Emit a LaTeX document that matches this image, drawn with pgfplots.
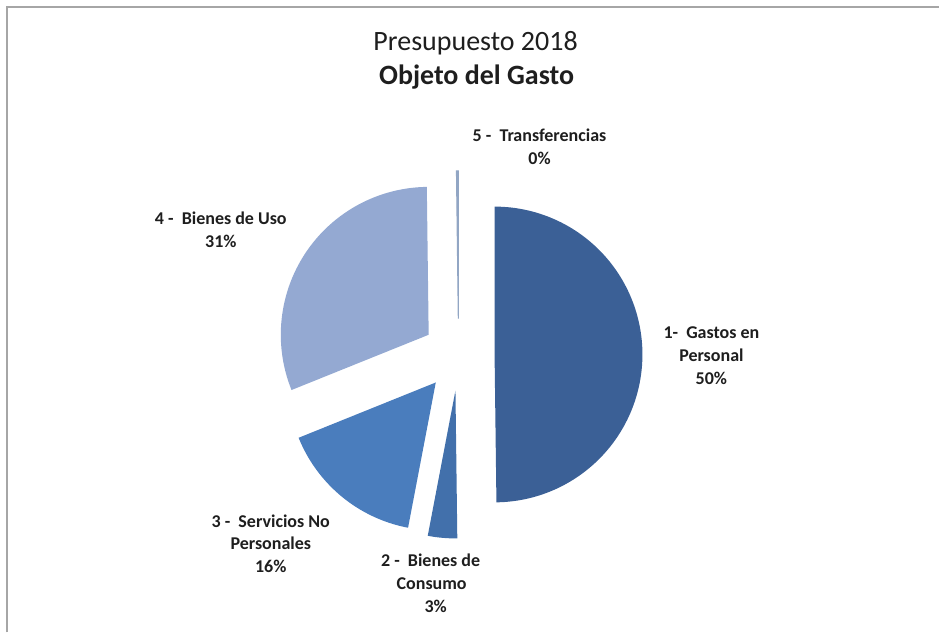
\documentclass[border=0pt]{standalone}
\usepackage{pgfplots}
\pgfplotsset{compat=1.18}
\usepackage{pgfplotstable}
\usepackage{fontspec}
\setmainfont{Carlito}

\definecolor{sliceA}{HTML}{3B6096}
\definecolor{sliceB}{HTML}{4270AB}
\definecolor{sliceC}{HTML}{4A7DBD}
\definecolor{sliceD}{HTML}{94A9D2}
\definecolor{sliceE}{HTML}{92A6C4}
\definecolor{txt}{HTML}{1E1E1E}
\definecolor{frame}{HTML}{A6A6A6}

% share of each object of expense (percent)
\pgfplotstableread{
slice pct
1 49.8
2 3.2
3 15.9
4 30.9
5 0.2
}\gastotable

\begin{document}
\begin{tikzpicture}
% pie geometry in pixel units: centre, radius, explode distance
\def\cx{459}\def\cy{355}\def\R{148}\def\off{36}
\gdef\cum{0}
\foreach \i/\n in {0/A,1/B,2/C,3/D,4/E}{
  \pgfplotstablegetelem{\i}{pct}\of\gastotable
  \pgfmathsetmacro\st{90-3.6*\cum}
  \pgfmathsetmacro\en{\st-3.6*\pgfplotsretval}
  \pgfmathsetmacro\mi{(\st+\en)/2}
  \pgfmathsetmacro\px{\cx+\off*cos(\mi)}
  \pgfmathsetmacro\py{\cy-\off*sin(\mi)}
  \pgfmathsetmacro\newcum{\cum+\pgfplotsretval}
  \expandafter\xdef\csname s\n\endcsname{\st}
  \expandafter\xdef\csname e\n\endcsname{\en}
  \expandafter\xdef\csname x\n\endcsname{\px}
  \expandafter\xdef\csname y\n\endcsname{\py}
  \xdef\cum{\newcum}
}
\begin{axis}[
    x=1pt, y=1pt,
    xmin=0, xmax=940, ymin=0, ymax=633,
    y dir=reverse,
    hide axis,
    clip=false,
]
  % keep the whole chart area as the picture
  \path (axis cs:0,0) rectangle (axis cs:940,633);

  \addplot[fill=sliceA, draw=none, domain=\eA:\sA, samples=120, variable=\t]
    ({\xA+\R*cos(\t)},{\yA-\R*sin(\t)}) -- (axis cs:\xA,\yA) -- cycle;
  \addplot[fill=sliceB, draw=none, domain=\eB:\sB, samples=30, variable=\t]
    ({\xB+\R*cos(\t)},{\yB-\R*sin(\t)}) -- (axis cs:\xB,\yB) -- cycle;
  \addplot[fill=sliceC, draw=none, domain=\eC:\sC, samples=60, variable=\t]
    ({\xC+\R*cos(\t)},{\yC-\R*sin(\t)}) -- (axis cs:\xC,\yC) -- cycle;
  \addplot[fill=sliceD, draw=none, domain=\eD:\sD, samples=100, variable=\t]
    ({\xD+\R*cos(\t)},{\yD-\R*sin(\t)}) -- (axis cs:\xD,\yD) -- cycle;
  \addplot[fill=sliceE, draw=sliceE, line width=1.2pt, domain=\eE:\sE, samples=5, variable=\t]
    ({\xE+\R*cos(\t)},{\yE-\R*sin(\t)}) -- (axis cs:\xE,\yE) -- cycle;

  % chart frame (only top and left edges are visible)
  \draw[frame, line width=1.6pt] (axis cs:7,633) -- (axis cs:7,7) -- (axis cs:940,7);

  % titles
  \node[txt, anchor=base, font=\fontsize{28}{32}\selectfont] at (axis cs:476,51) {Presupuesto 2018};
  \node[txt, anchor=base, font=\bfseries\fontsize{28}{32}\selectfont] at (axis cs:477,85) {Objeto del Gasto};

  % data labels
  \tikzset{lbl/.style={txt, anchor=base, font=\bfseries\fontsize{18}{21}\selectfont}}
  \node[lbl] at (axis cs:540,142) {5 -\ \ Transferencias};
  \node[lbl] at (axis cs:540,165) {0\%};
  \node[lbl] at (axis cs:221,225) {4 -\ \ Bienes de Uso};
  \node[lbl] at (axis cs:221,248) {31\%};
  \node[lbl] at (axis cs:712,339) {1-\ \ Gastos en};
  \node[lbl] at (axis cs:712,362) {Personal};
  \node[lbl] at (axis cs:712,385) {50\%};
  \node[lbl] at (axis cs:271,528) {3 -\ \ Servicios No};
  \node[lbl] at (axis cs:271,550) {Personales};
  \node[lbl] at (axis cs:271,573) {16\%};
  \node[lbl] at (axis cs:431,567) {2 -\ \ Bienes de};
  \node[lbl] at (axis cs:432,590) {Consumo};
  \node[lbl] at (axis cs:436,613) {3\%};
\end{axis}
\end{tikzpicture}
\end{document}
